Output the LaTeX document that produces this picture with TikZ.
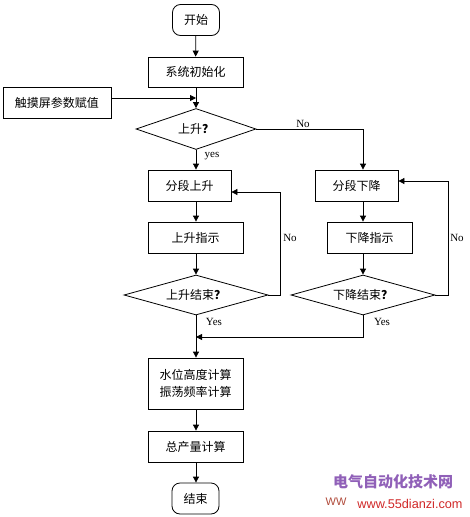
\documentclass[tikz,border=0pt]{standalone}
\usepackage{fontspec}
\setmainfont{Liberation Serif}
\newfontfamily\cjk{Noto Sans CJK SC}
\newfontfamily\wsans{Liberation Sans}
\usetikzlibrary{arrows.meta,shapes.geometric}
\definecolor{wmpurple}{HTML}{9060B8}
\definecolor{wmred}{HTML}{D02828}
\definecolor{wmbrown}{HTML}{B04A3A}
\newcommand{\qm}{\textbf{？}}
\tikzset{
  base/.style={draw, line width=0.8pt, inner sep=0pt, font=\cjk\fontsize{12}{17.5}\selectfont, align=center},
  box/.style={base, rectangle},
  term/.style={base, rectangle, rounded corners=8pt},
  dia/.style={base, diamond, aspect=3},
  arr/.style={line width=0.8pt, -{Triangle[length=6pt,width=6pt]}},
  lbl/.style={font=\fontsize{11}{13}\selectfont, inner sep=0pt}
}
\begin{document}
\begin{tikzpicture}[x=1pt,y=-1pt]
\useasboundingbox (0,0) rectangle (470,517);
% nodes
\node[term, minimum width=47pt, minimum height=31pt] (start) at (196,20) {开始};
\node[box, minimum width=95pt, minimum height=30pt] (init) at (195.5,72) {系统初始化};
\node[box, minimum width=108pt, minimum height=31pt] (touch) at (57,102.5) {触摸屏参数赋值};
\node[dia, minimum width=120pt, minimum height=41pt] (q1) at (196,129) {上升\qm};
\node[box, minimum width=83pt, minimum height=31pt] (useg) at (189.5,185.5) {分段上升};
\node[box, minimum width=95pt, minimum height=31pt] (uind) at (195.5,237.5) {上升指示};
\node[dia, minimum width=144pt, minimum height=40pt] (uend) at (196,295) {上升结束\qm};
\node[box, minimum width=83pt, minimum height=31pt] (dseg) at (356.5,185.5) {分段下降};
\node[box, minimum width=85pt, minimum height=31pt] (dind) at (369.5,237.5) {下降指示};
\node[dia, minimum width=144pt, minimum height=40pt] (dend) at (363,295) {下降结束\qm};
\node[box, minimum width=95pt, minimum height=51pt] (calc) at (195.5,383.5) {水位高度计算\\振荡频率计算};
\node[box, minimum width=95pt, minimum height=31pt] (total) at (195.5,446.5) {总产量计算};
\node[term, minimum width=47pt, minimum height=31pt] (end) at (195.5,498.5) {结束};
% helper coordinates
\coordinate (lc) at (196,0);
\coordinate (rc) at (363,0);
\coordinate (j1) at (196,98);
\coordinate (lloop) at (280,192);
\coordinate (rloop) at (448,181);
\coordinate (merge) at (363,337);
% connectors
\draw[arr] (start) -- (init);
\draw[arr] (lc |- init.south) -- (q1.north);
\draw[arr] (touch.east |- j1) -- (j1);
\draw[arr] (q1.east) -| (rc |- dseg.north);
\draw[arr] (q1.south) -- (lc |- useg.north);
\draw[arr] (lc |- useg.south) -- (lc |- uind.north);
\draw[arr] (lc |- uind.south) -- (uend.north);
\draw[arr] (uend.east) -| (lloop) -- (useg.east |- lloop);
\draw[arr] (rc |- dseg.south) -- (rc |- dind.north);
\draw[arr] (rc |- dind.south) -- (dend.north);
\draw[arr] (dend.east) -| (rloop) -- (dseg.east |- rloop);
\draw[arr] (dend.south) -- (merge) -- (lc |- merge);
\draw[arr] (uend.south) -- (lc |- calc.north);
\draw[arr] (lc |- calc.south) -- (lc |- total.north);
\draw[arr] (lc |- total.south) -- (lc |- end.north);
% labels
\node[lbl] (lno1) at (303,124) {No};
\node[lbl] (lyes1) at (212,156) {yes};
\node[lbl] (lno2) at (290,238) {No};
\node[lbl] (lno3) at (457,238) {No};
\node[lbl] (lyes2) at (214,322) {Yes};
\node[lbl] (lyes3) at (382,322) {Yes};
% watermark
\node[inner sep=0pt, text=wmpurple, font=\cjk\bfseries\fontsize{15}{17}\selectfont] (wm1) at (393,482) {电气自动化技术网};
\node[inner sep=0pt, text=wmred, font=\wsans\fontsize{12.7}{14}\selectfont] (wm2) at (410,504) {www.55dianzi.com};
\node[inner sep=0pt, text=wmbrown, font=\wsans\fontsize{11}{13}\selectfont] (wm3) at (336,502) {WW};
\end{tikzpicture}
\end{document}
